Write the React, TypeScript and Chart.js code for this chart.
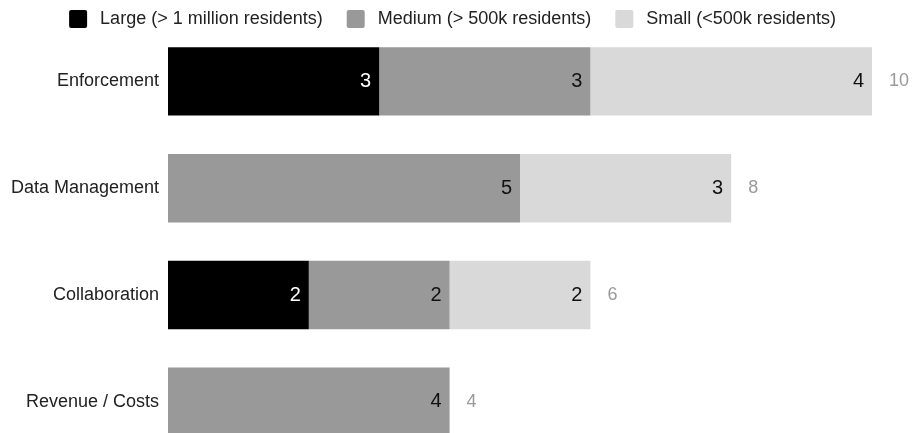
import React, { useEffect, useRef } from "react";
import { Chart, registerables } from "chart.js";

Chart.register(...registerables);

const categories = ["Enforcement", "Data Management", "Collaboration", "Revenue / Costs"];
const seriesNames = [
  "Large (> 1 million residents)",
  "Medium (> 500k residents)",
  "Small (<500k residents)",
];
const largeCounts = [3, 0, 2, 0];
const mediumCounts = [3, 5, 2, 4];
const smallCounts = [4, 3, 2, 0];
const axisMax = 10;

const FONT = 'Arial, "Liberation Sans", sans-serif';
const fills = ["#000000", "#999999", "#d9d9d9"];
const valueColors = ["#ffffff", "#111111", "#111111"];

// Legend row drawn across the top of the canvas
const topLegend = {
  id: "topLegend",
  afterDraw(chart: any) {
    const { ctx, width } = chart;
    const box = 18;
    const textGap = 13;
    const itemGap = 24;
    ctx.save();
    ctx.font = `18px ${FONT}`;
    const items = chart.data.datasets.map((ds: any) => ({
      label: ds.label as string,
      color: ds.backgroundColor as string,
      w: ctx.measureText(ds.label).width,
    }));
    const total =
      items.reduce((s: number, it: any) => s + box + textGap + it.w, 0) + itemGap * (items.length - 1);
    let x = width / 2 - 4 - total / 2;
    const cy = 19;
    ctx.textBaseline = "middle";
    ctx.textAlign = "left";
    for (const it of items) {
      ctx.fillStyle = it.color;
      ctx.beginPath();
      ctx.roundRect(x, cy - 9, box, box, 2);
      ctx.fill();
      ctx.fillStyle = "#222222";
      ctx.fillText(it.label, x + box + textGap, cy);
      x += box + textGap + it.w + itemGap;
    }
    ctx.restore();
  },
};

// Segment values inside bars and totals after each stack
const barLabels = {
  id: "barLabels",
  afterDatasetsDraw(chart: any) {
    const { ctx } = chart;
    const xScale = chart.scales.x;
    ctx.save();
    ctx.textBaseline = "middle";
    chart.data.datasets.forEach((ds: any, di: number) => {
      const meta = chart.getDatasetMeta(di);
      meta.data.forEach((el: any, i: number) => {
        const v = ds.data[i];
        if (!v) return;
        ctx.font = `20px ${FONT}`;
        ctx.fillStyle = valueColors[di];
        ctx.textAlign = "right";
        ctx.fillText(String(v), el.x - 8, el.y);
      });
    });
    const meta0 = chart.getDatasetMeta(0);
    categories.forEach((_, i) => {
      const total = largeCounts[i] + mediumCounts[i] + smallCounts[i];
      const y = meta0.data[i].y;
      ctx.font = `18px ${FONT}`;
      ctx.fillStyle = "#999999";
      ctx.textAlign = "left";
      ctx.fillText(String(total), xScale.getPixelForValue(total) + 17, y);
    });
    ctx.restore();
  },
};

export default function App() {
  const canvasRef = useRef<HTMLCanvasElement | null>(null);

  useEffect(() => {
    if (!canvasRef.current) return;
    const chart = new Chart(canvasRef.current, {
      type: "bar",
      data: {
        labels: categories,
        datasets: [largeCounts, mediumCounts, smallCounts].map((d, k) => ({
          label: seriesNames[k],
          data: d,
          backgroundColor: fills[k],
          borderWidth: 0,
          barPercentage: 0.8,
          categoryPercentage: 0.8,
        })),
      },
      options: {
        indexAxis: "y",
        animation: false,
        responsive: false,
        devicePixelRatio: 1,
        layout: { padding: { top: 28, right: 41, bottom: 5, left: 0 } },
        plugins: {
          legend: { display: false },
          tooltip: { enabled: false },
        },
        scales: {
          x: { stacked: true, display: false, min: 0, max: axisMax },
          y: {
            stacked: true,
            grid: { display: false, drawTicks: false },
            border: { display: false },
            ticks: { padding: 9, color: "#222222", font: { family: FONT, size: 18 } },
            afterFit: (s: any) => {
              s.width = 168;
            },
          },
        },
      },
      plugins: [topLegend, barLabels],
    });
    return () => chart.destroy();
  }, []);

  return (
    <div style={{ position: "fixed", left: 0, top: 0, width: 913, height: 433, overflow: "hidden", background: "#fff" }}>
      <canvas ref={canvasRef} width={913} height={475} />
    </div>
  );
}
